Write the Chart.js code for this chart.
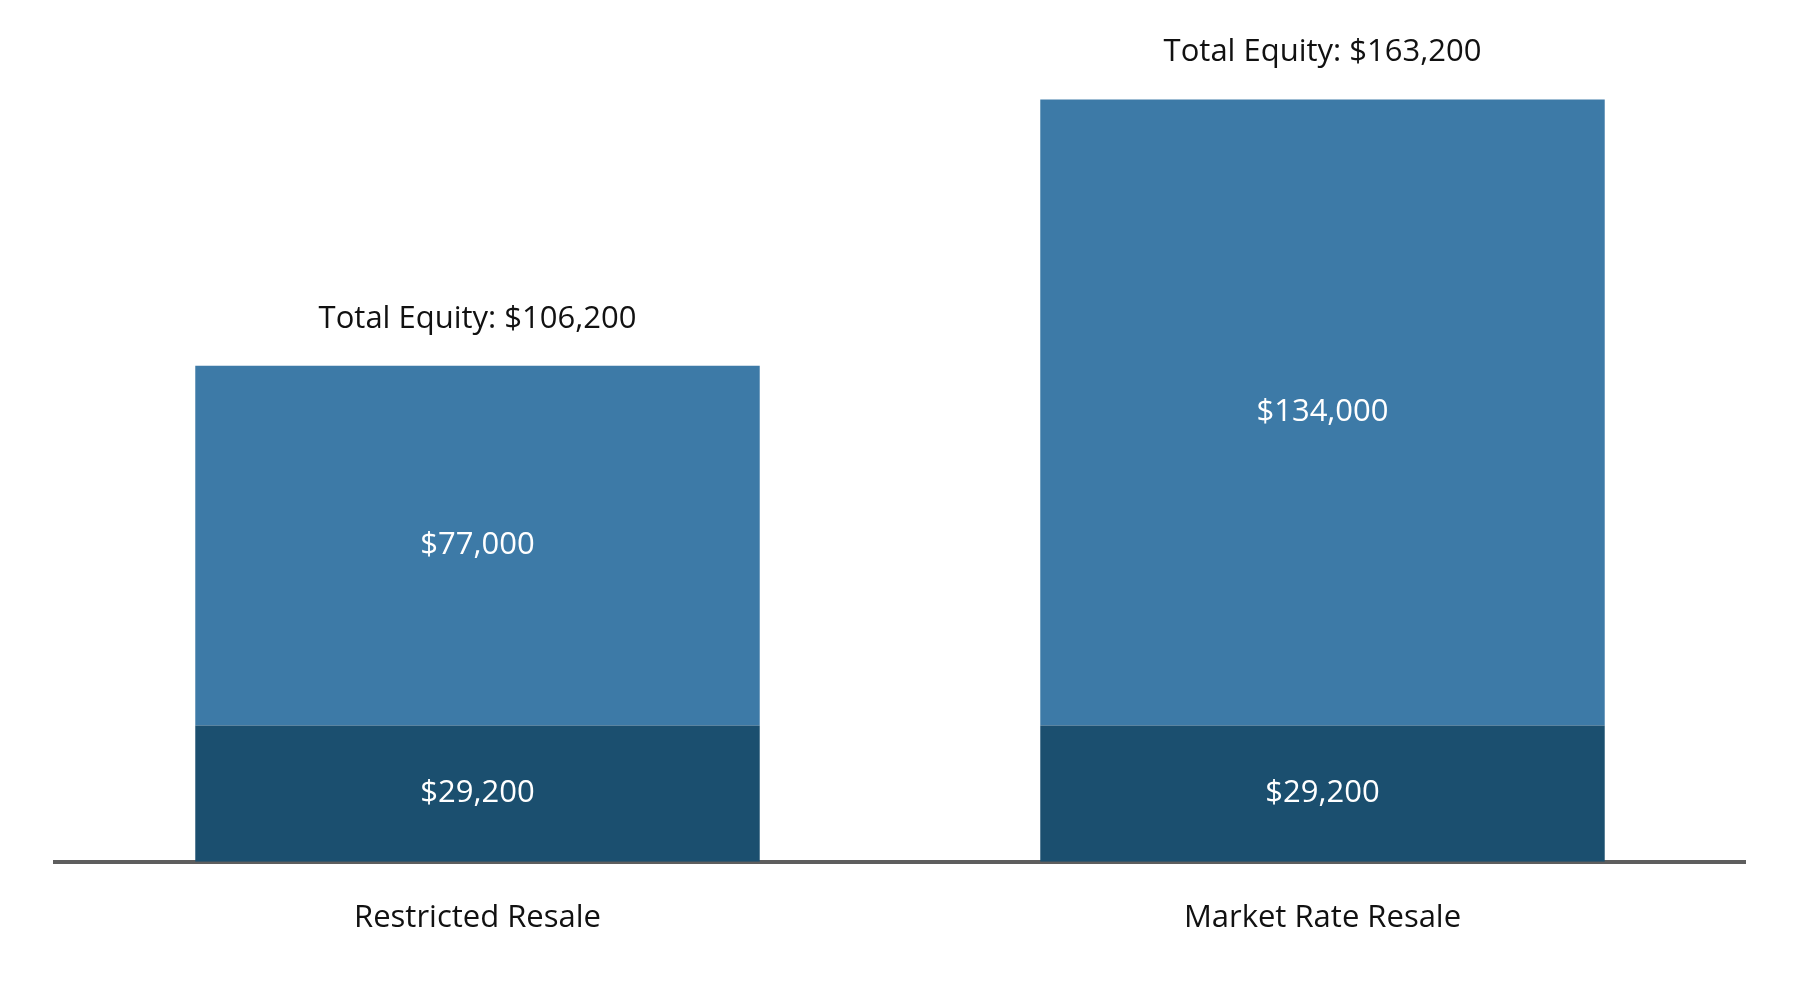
<!DOCTYPE html>
<html>
<head>
<meta charset="utf-8">
<script src="https://cdn.jsdelivr.net/npm/chart.js@4"></script>
<style>
  html, body { margin: 0; padding: 0; background: #fff; }
  #wrap { width: 1800px; height: 983px; }
</style>
</head>
<body>
<div id="wrap"><canvas id="equityChart"></canvas></div>
<script>
const categories = ["Restricted Resale", "Market Rate Resale"];
const baseValues = [29200, 29200];
const gainValues = [77000, 134000];
const totalValues = [106200, 163200];
const barColors = ["#1b4f6f", "#3d7aa7"];

const FONT = "'Open Sans', 'Noto Sans', sans-serif";

function money(v) {
    return "$" + v.toLocaleString("en-US");
}

// value labels inside segments + totals above the stack
const labelPlugin = {
    id: "barLabels",
    afterDatasetsDraw(chart) {
        const ctx = chart.ctx;
        ctx.save();
        ctx.textAlign = "center";
        ctx.textBaseline = "middle";
        ctx.font = "31px " + FONT;
        ctx.fillStyle = "#ffffff";
        chart.data.datasets.forEach((ds, i) => {
            chart.getDatasetMeta(i).data.forEach((bar, j) => {
                ctx.fillText(money(ds.data[j]), bar.x, (bar.y + bar.base) / 2);
            });
        });
        const top = chart.getDatasetMeta(chart.data.datasets.length - 1).data;
        ctx.fillStyle = "#111111";
        ctx.textBaseline = "alphabetic";
        top.forEach((bar, j) => {
            ctx.fillText("Total Equity: " + money(totalValues[j]), bar.x, bar.y - 38);
        });
        ctx.restore();
    }
};

new Chart("equityChart", {
    type: "bar",
    data: {
        labels: categories,
        datasets: [{
            label: "Base",
            data: baseValues,
            backgroundColor: barColors[0]
        }, {
            label: "Gain",
            data: gainValues,
            backgroundColor: barColors[1]
        }]
    },
    options: {
        responsive: true,
        maintainAspectRatio: false,
        animation: false,
        barPercentage: 0.668,
        categoryPercentage: 1,
        layout: {
            padding: { left: 55, right: 55, top: 0, bottom: 16 }
        },
        plugins: {
            legend: { display: false },
            tooltip: { enabled: false }
        },
        scales: {
            x: {
                stacked: true,
                grid: { display: false },
                border: { display: true, color: "#5e5e5e", width: 4 },
                ticks: {
                    color: "#111111",
                    padding: 30,
                    font: { family: FONT, size: 31 }
                }
            },
            y: {
                stacked: true,
                display: false,
                min: 0,
                max: 184500
            }
        }
    },
    plugins: [labelPlugin]
});
</script>
</body>
</html>
